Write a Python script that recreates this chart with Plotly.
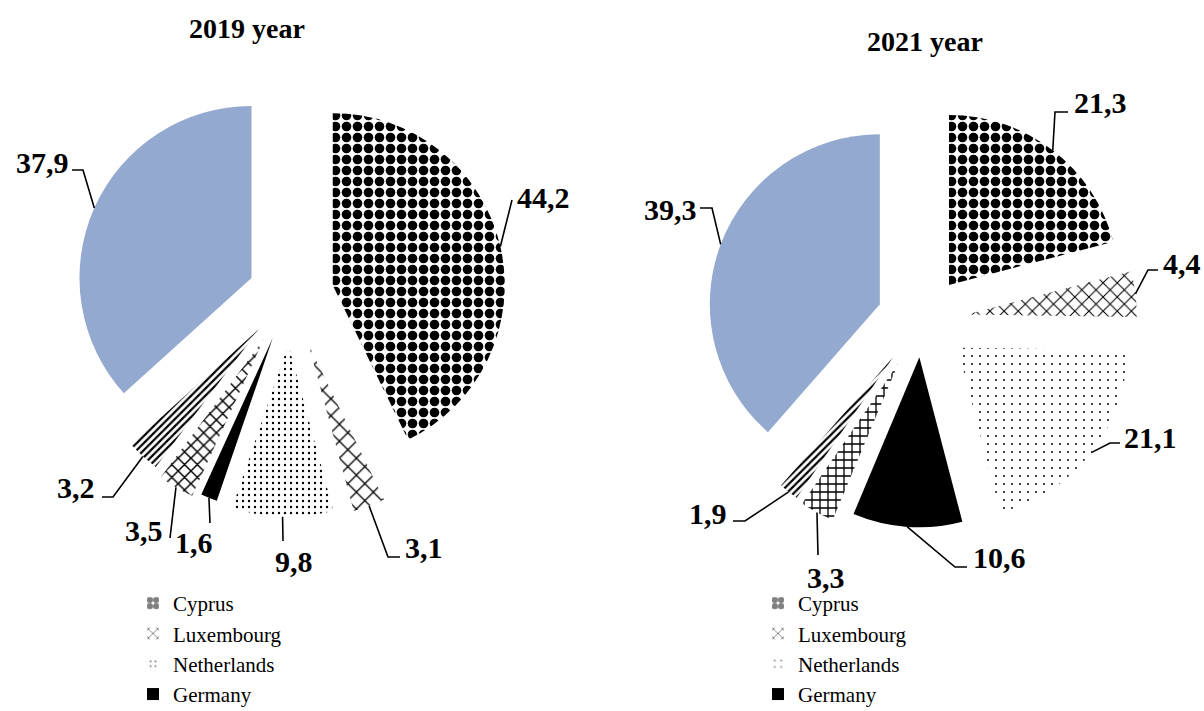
import math
import plotly.graph_objects as go

W, H = 1204, 711

# ---------------- data ----------------
categories = ["Cyprus", "Luxembourg", "Netherlands", "Germany",
              "Country 5", "Country 6", "Other countries"]
values_2019 = [44.2, 3.1, 9.8, 1.6, 3.5, 3.2, 37.9]
values_2021 = [21.3, 4.4, 21.1, 10.6, 3.3, 1.9, 39.3]
legend_categories = ["Cyprus", "Luxembourg", "Netherlands", "Germany"]
titles = ["2019 year", "2021 year"]

# ---------------- styles ----------------
SERIF = "Liberation Serif, Times New Roman, serif"
BLUE = "#94A9CF"
slice_colors = ["white", "white", "white", "black", "white", "white", BLUE]

patterns_2019 = dict(shape=[".", "x", ".", "", "x", "/", ""],
                     size=[11, 12, 6, 8, 9, 5, 8],
                     solidity=[0.6, 0.2, 0.12, 0.3, 0.3, 0.45, 0.3])
patterns_2021 = dict(shape=[".", "x", ".", "", "+", "/", ""],
                     size=[11, 10, 8, 8, 8, 5, 8],
                     solidity=[0.6, 0.2, 0.05, 0.3, 0.3, 0.45, 0.3])

pull_2019 = [0.255, 0.31, 0.29, 0.27, 0.30, 0.27, 0.245]
pull_2021 = [0.26, 0.265, 0.265, 0.22, 0.29, 0.28, 0.265]

# pie placement (window pixel centre and radius)
pie_2019 = dict(cx=290, cy=295, r=172)
pie_2021 = dict(cx=922, cy=320, r=170)

# label layout: elbow points (px) after the slice anchor, text position and anchor
lab_2019 = [
    ([(512, 200)], (515, 197, "left")),
    ([(388, 557), (400, 557)], (403, 547, "left")),
    ([(283, 541)], (294, 561, "center")),
    ([(210, 523)], (194, 542, "center")),
    ([(170, 538)], (165, 530, "right")),
    ([(113, 497), (102, 497)], (97, 487, "right")),
    ([(83, 170), (72, 170)], (71, 163, "right")),
]
lab_2021 = [
    ([(1055, 112), (1068, 112)], (1072, 103, "left")),
    ([(1148, 270), (1158, 270)], (1161, 263, "left")),
    ([(1110, 443), (1120, 443)], (1122, 437, "left")),
    ([(955, 567), (967, 567)], (971, 557, "left")),
    ([(818, 555)], (826, 577, "center")),
    ([(745, 521), (733, 521)], (729, 513, "right")),
    ([(712, 208), (700, 208)], (699, 210, "right")),
]


def px(x, y):
    return x / W, 1 - y / H


def domain(p, pulls):
    side = 2 * p["r"] * (1 + max(pulls))
    x0, y0 = px(p["cx"] - side / 2, p["cy"] + side / 2)
    x1, y1 = px(p["cx"] + side / 2, p["cy"] - side / 2)
    return dict(x=[x0, x1], y=[y0, y1])


def anchors(values, pulls, p):
    total = sum(values)
    cum = 0.0
    out = []
    for v, pl in zip(values, pulls):
        mid = (cum + v / 2) / total * 2 * math.pi
        cum += v
        k = (1 + pl) * p["r"]
        out.append((p["cx"] + k * math.sin(mid), p["cy"] - k * math.cos(mid)))
    return out


def fmt(v):
    return f"{v:.1f}".replace(".", ",")


fig = go.Figure()

for vals, pulls, pat, geo in [(values_2019, pull_2019, patterns_2019, pie_2019),
                              (values_2021, pull_2021, patterns_2021, pie_2021)]:
    fig.add_trace(go.Pie(
        labels=categories, values=vals, sort=False, direction="clockwise",
        rotation=0, pull=pulls, textinfo="none", hoverinfo="label+value",
        showlegend=False, domain=domain(geo, pulls),
        marker=dict(colors=slice_colors, line=dict(width=0),
                    pattern=dict(shape=pat["shape"], size=pat["size"],
                                 solidity=pat["solidity"], fgcolor="black",
                                 bgcolor=slice_colors, fillmode="replace")),
    ))

# legend entries (patterned bars with zero height)
for leg, pat in [("legend", patterns_2019), ("legend2", patterns_2021)]:
    for i, name in enumerate(legend_categories):
        fig.add_trace(go.Bar(
            x=[0], y=[0], name=name, legend=leg, hoverinfo="skip",
            marker=dict(color=slice_colors[i], line=dict(width=0),
                        pattern=dict(shape=pat["shape"][i], size=min(pat["size"][i], 8),
                                     solidity=min(pat["solidity"][i] * 1.3, 0.8),
                                     fgcolor="black", bgcolor=slice_colors[i])),
        ))

annotations = []
shapes = []
for vals, pulls, geo, labs in [(values_2019, pull_2019, pie_2019, lab_2019),
                               (values_2021, pull_2021, pie_2021, lab_2021)]:
    for (ax, ay), v, (elbows, (tx, ty, anc)) in zip(anchors(vals, pulls, geo), vals, labs):
        pts = [(ax, ay)] + elbows
        path = "M " + " L ".join(f"{px(x, y)[0]:.5f},{px(x, y)[1]:.5f}" for x, y in pts)
        shapes.append(dict(type="path", xref="paper", yref="paper", path=path,
                           line=dict(color="black", width=1.6)))
        X, Y = px(tx, ty)
        annotations.append(dict(x=X, y=Y, xref="paper", yref="paper", text=f"<b>{fmt(v)}</b>",
                                showarrow=False, xanchor=anc, yanchor="middle",
                                font=dict(family=SERIF, size=30, color="black")))

for t, (tx, ty) in zip(titles, [(247, 29), (925, 42)]):
    X, Y = px(tx, ty)
    annotations.append(dict(x=X, y=Y, xref="paper", yref="paper", text=f"<b>{t}</b>",
                            showarrow=False, xanchor="center", yanchor="middle",
                            font=dict(family=SERIF, size=28, color="black")))

leg_common = dict(xanchor="left", yanchor="top", bgcolor="rgba(0,0,0,0)",
                  font=dict(family=SERIF, size=21, color="black"),
                  tracegroupgap=0, itemclick=False, itemdoubleclick=False)
lx1, ly1 = px(133, 583)
lx2, ly2 = px(758, 583)

fig.update_layout(
    width=W, height=H, margin=dict(l=0, r=0, t=0, b=0, autoexpand=False),
    paper_bgcolor="white", plot_bgcolor="white",
    xaxis=dict(visible=False, domain=[0, 0.01]),
    yaxis=dict(visible=False, domain=[0, 0.01]),
    legend=dict(x=lx1, y=ly1, **leg_common),
    legend2=dict(x=lx2, y=ly2, **leg_common),
    annotations=annotations, shapes=shapes,
    barmode="overlay",
)

fig.write_html("out.html", config={"displayModeBar": False},
               post_script="document.body.style.margin='0';document.body.style.overflow='hidden';")
